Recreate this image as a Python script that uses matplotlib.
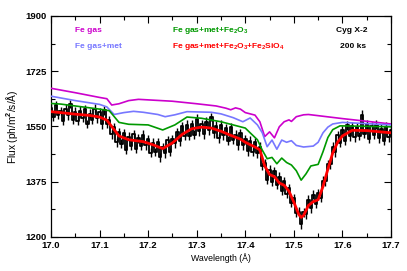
import numpy as np
import matplotlib
matplotlib.use("Agg")
import matplotlib.pyplot as plt
from matplotlib.ticker import MultipleLocator, FixedLocator

# ---- model curves (wavelength, flux) ----
mag_w = [17.00, 17.05, 17.10, 17.115, 17.125, 17.14, 17.16, 17.18, 17.25, 17.30, 17.34, 17.36, 17.37,
         17.38, 17.39, 17.40, 17.41, 17.42, 17.43, 17.44, 17.45, 17.46, 17.47, 17.48, 17.49, 17.495,
         17.505, 17.52, 17.53, 17.60, 17.70]
mag_f = [1671, 1657, 1642, 1638, 1618, 1622, 1632, 1636, 1630, 1622, 1615, 1608, 1603,
         1609, 1605, 1594, 1590, 1586, 1565, 1518, 1533, 1514, 1549, 1565, 1571, 1566,
         1581, 1587, 1588, 1575, 1558]

blue_w = [17.00, 17.05, 17.10, 17.115, 17.13, 17.15, 17.17, 17.19, 17.22, 17.235, 17.255, 17.28, 17.33,
          17.35, 17.375, 17.395, 17.41, 17.425, 17.435, 17.445, 17.455, 17.465, 17.475, 17.485, 17.495,
          17.505, 17.52, 17.54, 17.55, 17.56, 17.57, 17.58, 17.60, 17.70]
blue_f = [1646, 1632, 1620, 1612, 1588, 1594, 1598, 1595, 1588, 1581, 1587, 1597, 1595,
          1590, 1578, 1565, 1577, 1555, 1530, 1486, 1507, 1478, 1507, 1500, 1505,
          1490, 1485, 1488, 1500, 1530, 1548, 1558, 1563, 1555]

green_w = [17.00, 17.02, 17.10, 17.12, 17.14, 17.16, 17.20, 17.23, 17.255, 17.28, 17.31, 17.35, 17.40,
           17.41, 17.425, 17.435, 17.445, 17.455, 17.465, 17.475, 17.485, 17.495, 17.505, 17.515,
           17.525, 17.535, 17.55, 17.56, 17.57, 17.58, 17.595, 17.70]
green_f = [1623, 1621, 1605, 1600, 1563, 1557, 1555, 1539, 1555, 1580, 1576, 1565, 1545,
           1530, 1508, 1475, 1448, 1452, 1432, 1450, 1436, 1428, 1410, 1380,
           1400, 1425, 1430, 1470, 1515, 1540, 1552, 1549]

red_w = [17.00, 17.02, 17.05, 17.08, 17.10, 17.115, 17.13, 17.14, 17.16, 17.19, 17.21, 17.23, 17.25,
         17.27, 17.29, 17.31, 17.33, 17.35, 17.37, 17.39, 17.40, 17.42, 17.43, 17.44, 17.45, 17.46,
         17.47, 17.48, 17.49, 17.50, 17.51, 17.515, 17.52, 17.53, 17.54, 17.55, 17.56, 17.57, 17.58,
         17.59, 17.60, 17.62, 17.65, 17.70]
red_f = [1597, 1594, 1589, 1585, 1580, 1570, 1540, 1520, 1508, 1502, 1492, 1480, 1498,
         1525, 1543, 1548, 1545, 1535, 1522, 1510, 1500, 1485, 1476, 1425, 1398, 1391,
         1371, 1364, 1345, 1310, 1272, 1262, 1268, 1300, 1312, 1318, 1360, 1415, 1466,
         1500, 1520, 1538, 1537, 1530]

# ---- observed data (0.005 A bins from 17.000 to 17.700) ----
data_start = 17.0
data_step = 0.005
data_f = [1607, 1581, 1618, 1587, 1599, 1568, 1606, 1585, 1621, 1572,
          1597, 1568, 1600, 1577, 1604, 1558, 1591, 1572, 1606, 1576,
          1595, 1557, 1601, 1558, 1570, 1525, 1548, 1500, 1532, 1495,
          1529, 1476, 1518, 1489, 1526, 1480, 1512, 1488, 1524, 1490,
          1509, 1467, 1498, 1469, 1501, 1453, 1485, 1465, 1507, 1469,
          1510, 1497, 1532, 1503, 1550, 1520, 1556, 1521, 1558, 1524,
          1574, 1535, 1558, 1525, 1565, 1538, 1580, 1528, 1552, 1513,
          1555, 1522, 1544, 1505, 1547, 1507, 1524, 1491, 1528, 1490,
          1510, 1471, 1505, 1469, 1500, 1465, 1486, 1425, 1433, 1381,
          1413, 1375, 1409, 1366, 1391, 1346, 1376, 1337, 1355, 1308,
          1322, 1276, 1280, 1240, 1278, 1272, 1318, 1291, 1334, 1305,
          1338, 1324, 1378, 1376, 1430, 1430, 1486, 1468, 1522, 1498,
          1538, 1505, 1554, 1519, 1550, 1516, 1548, 1520, 1587, 1527,
          1557, 1511, 1551, 1523, 1556, 1513, 1543, 1504, 1549, 1516,
          1538]
data_err = 14

yticks = [1200, 1375, 1550, 1725, 1900]
yminor = [1287.5, 1462.5, 1637.5, 1812.5]
xticks = [17.0, 17.1, 17.2, 17.3, 17.4, 17.5, 17.6, 17.7]

labels = ["Fe gas", "Fe gas+met", "Fe gas+met+Fe$_2$O$_3$", "Fe gas+met+Fe$_2$O$_3$+Fe$_2$SiO$_4$"]
colors = ["#cc00cc", "#7777ff", "#009900", "#ff0000"]

plt.rcParams['font.family'] = ['Liberation Sans', 'DejaVu Sans']
plt.rcParams['font.weight'] = 'bold'
plt.rcParams['mathtext.fontset'] = 'custom'
plt.rcParams['mathtext.rm'] = 'Liberation Sans:bold'
plt.rcParams['mathtext.default'] = 'rm'

fig = plt.figure(figsize=(4.07, 2.71), dpi=100)
ax = fig.add_axes([0.1253, 0.1255, 0.8354, 0.8155])

dw = data_start + data_step * np.arange(len(data_f))
df = np.array(data_f)
ax.vlines(dw, df - data_err, df + data_err, color='black', lw=1.0, zorder=2)
ax.step(dw, df, where='mid', color='black', lw=1.3, zorder=2)

ax.plot(mag_w, mag_f, color=colors[0], lw=1.2, zorder=3)
ax.plot(blue_w, blue_f, color=colors[1], lw=1.2, zorder=3)
ax.plot(green_w, green_f, color=colors[2], lw=1.2, zorder=3)
ax.plot(red_w, red_f, color=colors[3], lw=2.0, zorder=4)

ax.set_xlim(17.0, 17.7)
ax.set_ylim(1200, 1900)
ax.xaxis.set_major_locator(FixedLocator(xticks))
ax.xaxis.set_minor_locator(MultipleLocator(0.05))
ax.yaxis.set_major_locator(FixedLocator(yticks))
ax.yaxis.set_minor_locator(FixedLocator(yminor))
ax.xaxis.set_major_formatter(matplotlib.ticker.FormatStrFormatter('%.1f'))
ax.tick_params(which='both', direction='in', top=True, right=True, labelsize=6.8, width=0.8, pad=3)
ax.tick_params(which='major', length=5)
ax.tick_params(which='minor', length=3)
for s in ax.spines.values():
    s.set_linewidth(0.9)

ax.set_xlabel("Wavelength (Å)", fontsize=6.3, labelpad=2)
ax.set_ylabel("Flux (ph/m$^2$/s/Å)", fontsize=7.3, labelpad=4)

fs = 6.0
ax.text(0.072, 0.935, labels[0], color=colors[0], fontsize=fs, transform=ax.transAxes, va='center')
ax.text(0.072, 0.862, labels[1], color=colors[1], fontsize=fs, transform=ax.transAxes, va='center')
ax.text(0.356, 0.935, labels[2], color=colors[2], fontsize=fs, transform=ax.transAxes, va='center')
ax.text(0.356, 0.862, labels[3], color=colors[3], fontsize=fs, transform=ax.transAxes, va='center')
ax.text(0.931, 0.935, "Cyg X-2", color='black', fontsize=fs, transform=ax.transAxes, va='center', ha='right')
ax.text(0.928, 0.862, "200 ks", color='black', fontsize=fs, transform=ax.transAxes, va='center', ha='right')

fig.savefig("out.png", dpi=100)
